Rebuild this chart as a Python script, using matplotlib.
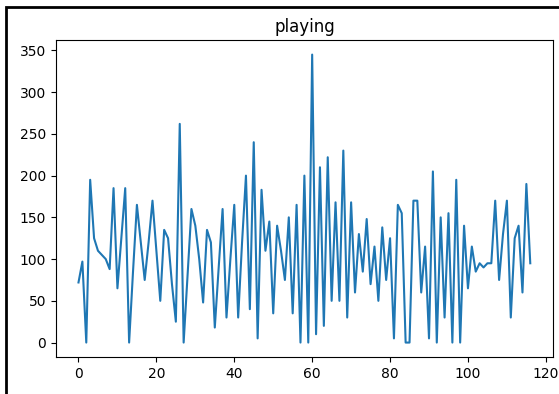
import matplotlib
matplotlib.use("Agg")
import matplotlib.pyplot as plt
from matplotlib.patches import Rectangle

# values, index 0..116
playing = [72, 97, 0, 195, 125, 110, 105, 100, 88, 185,
           65, 125, 185, 0, 85, 165, 120, 75, 120, 170,
           110, 50, 135, 125, 70, 25, 262, 0, 80, 160,
           140, 100, 48, 135, 120, 18, 90, 160, 30, 100,
           165, 30, 120, 200, 40, 240, 5, 183, 110, 145,
           35, 140, 110, 75, 150, 35, 165, 0, 200, 0,
           345, 10, 210, 20, 222, 50, 168, 50, 230, 30,
           168, 60, 130, 85, 148, 70, 115, 50, 138, 75,
           125, 5, 165, 155, 0, 0, 170, 170, 60, 115,
           5, 205, 0, 150, 30, 155, 0, 195, 0, 140,
           65, 115, 85, 95, 90, 95, 95, 170, 75, 130,
           170, 30, 125, 140, 60, 190, 95]

fig = plt.figure(figsize=(5.59, 3.94), dpi=100)
ax = fig.add_axes([0.10, 0.094, 0.889, 0.804])
ax.plot(range(len(playing)), playing, color="#1f77b4", linewidth=1.5)
ax.set_title("playing")
ax.set_xticks(range(0, 121, 20))
ax.set_yticks(range(0, 351, 50))

# black frame around the screenshot
fig.patches.append(Rectangle((6 / 559, -0.01), 1.02, 1 - 7 / 394 + 0.01,
                             transform=fig.transFigure, fill=False,
                             edgecolor="black", linewidth=2))

fig.savefig("out.png", dpi=100)
